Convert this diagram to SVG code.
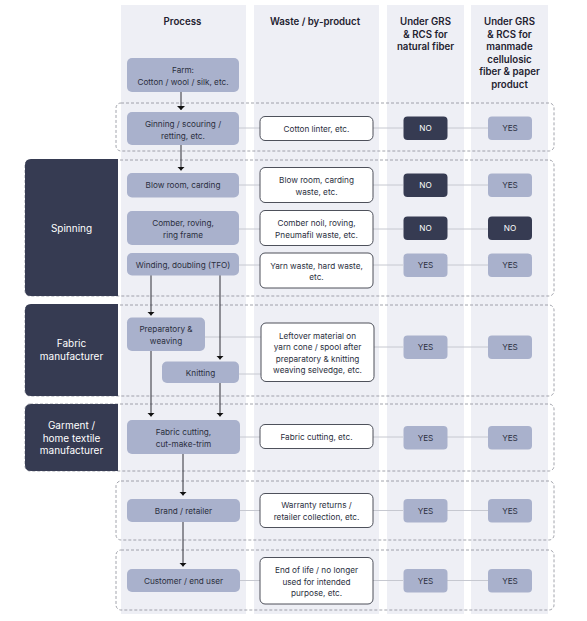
<svg xmlns="http://www.w3.org/2000/svg" width="587" height="621" viewBox="0 0 587 621">
<style>
.col{fill:#eeeff5}
.hdr{font-family:Inter,"Liberation Sans",sans-serif;font-size:9.7px;font-weight:600;fill:#1f2230;text-anchor:middle}
.t{font-family:Inter,"Liberation Sans",sans-serif;font-size:8.2px;fill:#2b2f3e;text-anchor:middle}
.lbl{font-family:Inter,"Liberation Sans",sans-serif;font-size:10px;fill:#ffffff;text-anchor:middle}
.proc{fill:#a9b1cc}
.waste{fill:#ffffff;stroke:#3a3d48;stroke-width:0.9}
.no{fill:#363b52}
.yes{fill:#a9b1cc}
.tno{font-family:Inter,"Liberation Sans",sans-serif;font-size:8.2px;fill:#ffffff;text-anchor:middle}
.dash{fill:none;stroke:#8c8e98;stroke-width:0.8;stroke-dasharray:3 2}
.dark{fill:#363b52}
.link{stroke:#c6c8d0;stroke-width:1;fill:none}
.arr{stroke:#2e2f36;stroke-width:1;fill:none;marker-end:url(#ah)}
</style>
<defs>
<marker id="ah" viewBox="0 0 4 8" refX="4" refY="4" markerWidth="4" markerHeight="8" markerUnits="userSpaceOnUse" orient="auto">
<path d="M0,0 L4,4 L0,8 z" fill="#111"/>
</marker>
</defs>
<rect width="587" height="621" fill="#ffffff"/>
<g id="columns">
<rect class="col" x="121" y="5" width="125" height="609"/>
<rect class="col" x="254" y="5" width="125" height="609"/>
<rect class="col" x="387" y="5" width="77" height="609"/>
<rect class="col" x="471" y="5" width="77" height="609"/>
</g>
<g id="headers">
<text class="hdr" x="182.5" y="25">Process</text>
<text class="hdr" x="315" y="25">Waste / by-product</text>
<text class="hdr" x="425.5" y="25">Under GRS</text>
<text class="hdr" x="425.5" y="37.5">&amp; RCS for</text>
<text class="hdr" x="425.5" y="50">natural fiber</text>
<text class="hdr" x="509.5" y="25">Under GRS</text>
<text class="hdr" x="509.5" y="37.5">&amp; RCS for</text>
<text class="hdr" x="509.5" y="50">manmade</text>
<text class="hdr" x="509.5" y="62.5">cellulosic</text>
<text class="hdr" x="509.5" y="75">fiber &amp; paper</text>
<text class="hdr" x="509.5" y="87.5">product</text>
</g>
<g id="stage-groups">
<rect class="dash" x="116" y="103" width="438" height="48" rx="5"/>
<rect class="dash" x="25" y="160" width="529" height="136" rx="5"/>
<rect class="dash" x="25" y="305" width="529" height="91" rx="5"/>
<rect class="dash" x="25" y="404" width="529" height="67" rx="5"/>
<rect class="dash" x="116" y="481" width="438" height="59" rx="5"/>
<rect class="dash" x="116" y="550" width="438" height="60" rx="5"/>
</g>
<g id="stage-spinning">
<path class="dark" d="M118,159 V296 H31 Q25,296 25,290 V165 Q25,159 31,159 Z"/>
<text class="lbl" x="71.5" y="231.5">Spinning</text>
</g>
<g id="stage-fabric">
<path class="dark" d="M118,304 V396 H31 Q25,396 25,390 V310 Q25,304 31,304 Z"/>
<text class="lbl" x="71.5" y="347">Fabric</text>
<text class="lbl" x="71.5" y="360">manufacturer</text>
</g>
<g id="stage-garment">
<path class="dark" d="M118,404 V471 H31 Q25,471 25,465 V410 Q25,404 31,404 Z"/>
<text class="lbl" x="71.5" y="429">Garment /</text>
<text class="lbl" x="71.5" y="441.5">home textile</text>
<text class="lbl" x="71.5" y="454">manufacturer</text>
</g>
<g id="connectors">
<line class="link" x1="239" y1="128" x2="260" y2="128"/>
<line class="link" x1="373" y1="128" x2="403" y2="128"/>
<line class="link" x1="447" y1="128" x2="488" y2="128"/>
<line class="link" x1="239" y1="185" x2="260" y2="185"/>
<line class="link" x1="373" y1="185" x2="403" y2="185"/>
<line class="link" x1="447" y1="185" x2="488" y2="185"/>
<line class="link" x1="239" y1="229" x2="260" y2="229"/>
<line class="link" x1="373" y1="229" x2="403" y2="229"/>
<line class="link" x1="447" y1="229" x2="488" y2="229"/>
<line class="link" x1="239" y1="265" x2="260" y2="265"/>
<line class="link" x1="373" y1="265" x2="403" y2="265"/>
<line class="link" x1="447" y1="265" x2="488" y2="265"/>
<line class="link" x1="205" y1="337" x2="261" y2="337"/>
<line class="link" x1="239" y1="374" x2="261" y2="374"/>
<line class="link" x1="374" y1="347" x2="403" y2="347"/>
<line class="link" x1="447" y1="347" x2="488" y2="347"/>
<line class="link" x1="240" y1="437" x2="260" y2="437"/>
<line class="link" x1="373" y1="437" x2="403" y2="437"/>
<line class="link" x1="447" y1="437" x2="488" y2="437"/>
<line class="link" x1="240" y1="510.5" x2="260" y2="510.5"/>
<line class="link" x1="373" y1="510.5" x2="403" y2="510.5"/>
<line class="link" x1="447" y1="510.5" x2="488" y2="510.5"/>
<line class="link" x1="240" y1="580.5" x2="260" y2="580.5"/>
<line class="link" x1="373" y1="580.5" x2="403" y2="580.5"/>
<line class="link" x1="447" y1="580.5" x2="488" y2="580.5"/>
<line class="arr" x1="181" y1="92" x2="181" y2="110"/>
<line class="arr" x1="181" y1="145" x2="181" y2="170.5"/>
<line class="arr" x1="151" y1="275" x2="151" y2="315.5"/>
<line class="arr" x1="220" y1="275" x2="220" y2="359.5"/>
<line class="arr" x1="151" y1="351" x2="151" y2="416.5"/>
<line class="arr" x1="220" y1="383" x2="220" y2="416.5"/>
<line class="arr" x1="183" y1="454" x2="183" y2="495.5"/>
<line class="arr" x1="183" y1="522" x2="183" y2="566.5"/>
</g>
<g id="farm">
<rect class="proc" x="127" y="58" width="112" height="34" rx="5"/>
<text class="t" x="183" y="73">Farm:</text>
<text class="t" x="183" y="85">Cotton / wool / silk, etc.</text>
</g>
<g id="ginning">
<rect class="proc" x="127" y="112" width="112" height="33" rx="5"/>
<text class="t" x="183" y="126.5">Ginning / scouring /</text>
<text class="t" x="183" y="138.5">retting, etc.</text>
</g>
<g id="blowroom">
<rect class="proc" x="127" y="173" width="112" height="24.5" rx="5"/>
<text class="t" x="183" y="188">Blow room, carding</text>
</g>
<g id="comber">
<rect class="proc" x="127" y="211" width="112" height="34" rx="5"/>
<text class="t" x="183" y="226">Comber, roving,</text>
<text class="t" x="183" y="237.5">ring frame</text>
</g>
<g id="winding">
<rect class="proc" x="127" y="253" width="112" height="22.5" rx="5"/>
<text class="t" x="183" y="267.5">Winding, doubling (TFO)</text>
</g>
<g id="preparatory">
<rect class="proc" x="127" y="317.5" width="78" height="33.5" rx="5"/>
<text class="t" x="166" y="332">Preparatory &amp;</text>
<text class="t" x="166" y="343.5">weaving</text>
</g>
<g id="knitting">
<rect class="proc" x="162" y="361.5" width="77" height="21.5" rx="5"/>
<text class="t" x="200.5" y="375.5">Knitting</text>
</g>
<g id="cutting">
<rect class="proc" x="127" y="420" width="113" height="34" rx="5"/>
<text class="t" x="183.5" y="435">Fabric cutting,</text>
<text class="t" x="183.5" y="446.5">cut-make-trim</text>
</g>
<g id="brand">
<rect class="proc" x="127" y="499" width="113" height="23" rx="5"/>
<text class="t" x="183.5" y="513.5">Brand / retailer</text>
</g>
<g id="customer">
<rect class="proc" x="127" y="569" width="113" height="23" rx="5"/>
<text class="t" x="183.5" y="583.5">Customer / end user</text>
</g>
<g id="waste-linter">
<rect class="waste" x="260" y="116.5" width="113" height="24" rx="5"/>
<text class="t" x="316.5" y="131.5">Cotton linter, etc.</text>
</g>
<g id="waste-blowroom">
<rect class="waste" x="260" y="167.5" width="113" height="35" rx="5"/>
<text class="t" x="316.5" y="183">Blow room, carding</text>
<text class="t" x="316.5" y="195">waste, etc.</text>
</g>
<g id="waste-comber">
<rect class="waste" x="260" y="210.5" width="113" height="35" rx="5"/>
<text class="t" x="316.5" y="226">Comber noil, roving,</text>
<text class="t" x="316.5" y="237.5">Pneumafil waste, etc.</text>
</g>
<g id="waste-yarn">
<rect class="waste" x="260" y="253" width="113" height="35" rx="5"/>
<text class="t" x="316.5" y="268.5">Yarn waste, hard waste,</text>
<text class="t" x="316.5" y="280">etc.</text>
</g>
<g id="waste-leftover">
<rect class="waste" x="261" y="323" width="113" height="58.5" rx="5"/>
<text class="t" x="317.5" y="338.5">Leftover material on</text>
<text class="t" x="317.5" y="350">yarn cone / spool after</text>
<text class="t" x="317.5" y="361.5">preparatory &amp; knitting</text>
<text class="t" x="317.5" y="373">weaving selvedge, etc.</text>
</g>
<g id="waste-cutting">
<rect class="waste" x="260" y="424.5" width="113" height="24" rx="5"/>
<text class="t" x="316.5" y="440">Fabric cutting, etc.</text>
</g>
<g id="waste-warranty">
<rect class="waste" x="260" y="493.5" width="113" height="34" rx="5"/>
<text class="t" x="316.5" y="508">Warranty returns /</text>
<text class="t" x="316.5" y="519.5">retailer collection, etc.</text>
</g>
<g id="waste-endoflife">
<rect class="waste" x="260" y="557.5" width="113" height="46.5" rx="5"/>
<text class="t" x="316.5" y="573">End of life / no longer</text>
<text class="t" x="316.5" y="584.5">used for intended</text>
<text class="t" x="316.5" y="596">purpose, etc.</text>
</g>
<g id="status-ginning">
<rect class="no" x="403.5" y="116.5" width="44" height="23.5" rx="4"/>
<text class="tno" x="425.5" y="131">NO</text>
<rect class="yes" x="488" y="116.5" width="44" height="23.5" rx="4"/>
<text class="t" x="510" y="131">YES</text>
</g>
<g id="status-blowroom">
<rect class="no" x="403.5" y="173.5" width="44" height="23.5" rx="4"/>
<text class="tno" x="425.5" y="188">NO</text>
<rect class="yes" x="488" y="173.5" width="44" height="23.5" rx="4"/>
<text class="t" x="510" y="188">YES</text>
</g>
<g id="status-comber">
<rect class="no" x="403.5" y="216.5" width="44" height="23.5" rx="4"/>
<text class="tno" x="425.5" y="231">NO</text>
<rect class="no" x="488" y="216.5" width="44" height="23.5" rx="4"/>
<text class="tno" x="510" y="231">NO</text>
</g>
<g id="status-winding">
<rect class="yes" x="403.5" y="253.5" width="44" height="23.5" rx="4"/>
<text class="t" x="425.5" y="268">YES</text>
<rect class="yes" x="488" y="253.5" width="44" height="23.5" rx="4"/>
<text class="t" x="510" y="268">YES</text>
</g>
<g id="status-fabric">
<rect class="yes" x="403.5" y="335.5" width="44" height="23.5" rx="4"/>
<text class="t" x="425.5" y="350">YES</text>
<rect class="yes" x="488" y="335.5" width="44" height="23.5" rx="4"/>
<text class="t" x="510" y="350">YES</text>
</g>
<g id="status-cutting">
<rect class="yes" x="403.5" y="426" width="44" height="23.5" rx="4"/>
<text class="t" x="425.5" y="440.5">YES</text>
<rect class="yes" x="488" y="426" width="44" height="23.5" rx="4"/>
<text class="t" x="510" y="440.5">YES</text>
</g>
<g id="status-brand">
<rect class="yes" x="403.5" y="499" width="44" height="23.5" rx="4"/>
<text class="t" x="425.5" y="513.5">YES</text>
<rect class="yes" x="488" y="499" width="44" height="23.5" rx="4"/>
<text class="t" x="510" y="513.5">YES</text>
</g>
<g id="status-customer">
<rect class="yes" x="403.5" y="569" width="44" height="23.5" rx="4"/>
<text class="t" x="425.5" y="583.5">YES</text>
<rect class="yes" x="488" y="569" width="44" height="23.5" rx="4"/>
<text class="t" x="510" y="583.5">YES</text>
</g>
</svg>
